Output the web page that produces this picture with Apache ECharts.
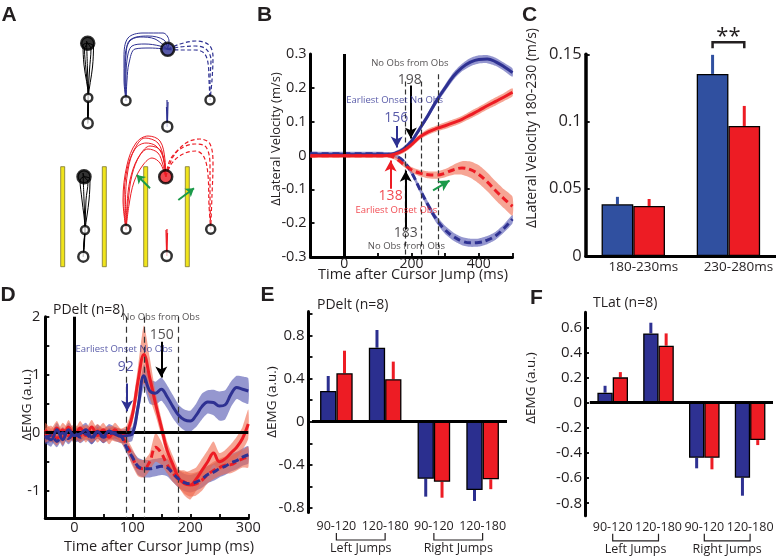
<!DOCTYPE html>
<html><head><meta charset="utf-8">
<script src="https://cdn.jsdelivr.net/npm/echarts@6/dist/echarts.min.js"></script>
<style>html,body{margin:0;padding:0;background:#fff}#c{width:776px;height:557px}</style>
</head><body><div id="c"></div>
<script>
// ================= DATA =================
// ---- Panel A: schematic hand paths (workspace units, cm) ----
const aBlackTop = [
 [[4.77,15.17],[4.8,16.5],[4.83,17.73],[4.6,20.5],[4.45,22.6],[4.77,23.17]],
 [[4.77,15.17],[4.85,16.5],[4.83,17.73],[4.95,20.5],[5.1,22.6],[4.77,23.17]],
 [[4.77,15.17],[4.8,16.5],[4.83,17.73],[5.25,20.8],[5.35,22.9],[4.77,23.17]],
 [[4.77,15.17],[4.75,16.5],[4.83,17.73],[4.75,20.5],[4.65,23.4],[4.77,23.17]],
 [[4.77,15.17],[4.8,16.5],[4.83,17.73],[4.4,21],[4.3,23],[4.77,23.17]]
];
const aBlueSolid = [
 [[8.6,17.43],[8.5,19.5],[8.5,21.5],[8.9,23.3],[10,23.8],[11.5,23.6],[12.77,22.57]],
 [[8.6,17.43],[8.6,19.5],[8.7,21.5],[9.2,22.9],[10.5,23.1],[12,22.9],[12.77,22.57]],
 [[8.6,17.43],[8.4,19.5],[8.4,21.8],[8.8,23.7],[10.3,24.2],[12.3,24.2],[12.9,23.4],[12.77,22.57]],
 [[8.6,17.43],[8.7,19.5],[8.9,21.2],[9.5,22.6],[11,22.7],[12.77,22.57]],
 [[8.6,17.43],[8.5,19.5],[8.6,22],[9.0,23.5],[10.8,23.9],[12.4,23.5],[12.77,22.57]]
];
const aBlueDashed = [
 [[12.77,22.57],[14,22.8],[15.5,22.9],[16.6,22.6],[17.1,21.5],[17.0,19.5],[17.0,17.5]],
 [[12.77,22.57],[14,22.5],[15.5,22.5],[16.4,22.2],[16.8,21.2],[16.9,19.5],[17.0,17.5]],
 [[12.77,22.57],[14,23.1],[15.6,23.4],[16.9,23.0],[17.3,21.8],[17.2,19.5],[17.0,17.5]]
];
const aBlueStub = [
 [[12.73,14.83],[12.7,17.5]], [[12.73,14.83],[12.8,17.3]], [[12.73,14.83],[12.65,16.8]]
];
const aBlackBottom = [
 [[4.33,1.83],[4.4,3.2],[4.5,4.5],[4.2,7.5],[4.0,9.5],[4.4,9.83]],
 [[4.33,1.83],[4.45,3.2],[4.5,4.5],[4.6,7.5],[4.8,9.3],[4.4,9.83]],
 [[4.33,1.83],[4.4,3.2],[4.5,4.5],[4.4,7.5],[4.3,10.2],[4.4,9.83]],
 [[4.33,1.83],[4.4,3.2],[4.5,4.5],[4.9,7.5],[5.0,9.6],[4.4,9.83]]
];
const aRedSolid = [
 [[8.6,4.57],[8.4,7],[8.6,10],[9.3,12.3],[10.5,13.7],[11.8,13.2],[12.4,11.5],[12.57,9.83]],
 [[8.6,4.57],[8.7,7],[9.0,9.5],[9.8,11.7],[10.8,12.6],[11.8,12.2],[12.3,11],[12.57,9.83]],
 [[8.6,4.57],[8.9,7],[9.4,9.3],[10.3,11],[11.2,11.7],[12,11.2],[12.57,9.83]],
 [[8.6,4.57],[8.3,7.5],[8.7,11],[9.6,13.2],[10.8,13.9],[12,13.4],[12.5,11.5],[12.57,9.83]],
 [[8.6,4.57],[8.55,7.2],[8.8,10.5],[9.5,12.6],[10.6,13.2],[11.6,12.9],[12.3,11.8],[12.57,9.83]],
 [[8.6,4.57],[8.8,7.2],[9.2,10],[10,12],[11,12.9],[12.1,12.4],[12.57,9.83]]
];
const aRedDashed = [
 [[12.57,9.83],[13.0,11.5],[14.0,12.6],[15.5,13.1],[16.6,12.8],[17.0,11],[17.0,8],[17.07,4.57]],
 [[12.57,9.83],[13.2,11.2],[14.3,12.1],[15.6,12.4],[16.4,11.8],[16.8,10],[16.9,7],[17.07,4.57]],
 [[12.57,9.83],[13.3,11.8],[14.6,13.2],[16.0,13.6],[17.0,13.1],[17.3,11],[17.2,8],[17.07,4.57]]
];
const aRedStub = [
 [[12.67,1.9],[12.6,4.5]], [[12.67,1.9],[12.75,4.2]], [[12.67,1.9],[12.7,4.6]]
];
const aRings = [
 [4.77,23.17,13],[4.83,17.73,8],[4.77,15.17,10],[8.6,17.43,9],[12.77,22.57,13],[17.0,17.5,9],[12.73,14.83,10],
 [4.4,9.83,13],[4.5,4.5,8],[4.33,1.83,10],[8.6,4.57,9],[12.57,9.83,13],[17.07,4.57,9],[12.67,1.9,10]
];
const aObstacles = [[2.27,0.83,10.83],[6.43,0.83,10.83],[10.57,0.83,10.83],[14.73,0.83,10.83]];
const aArrows = [[[11,8.67],[9.67,10]], [[13.83,7.5],[15.4,8.67]]];

// ---- Panel B: lateral velocity (m/s) vs time (ms) ----
const bTime = [-100,-75,-50,-25,0,25,50,75,100,125,150,175,200,225,250,275,300,325,350,375,400,425,450,475,500];
const bNoObsLeft  = [0.002,0.002,0.002,0.002,0.002,0.002,0.002,0.002,0.002,0.002,0.006,0.018,0.042,0.08,0.12,0.163,0.2,0.235,0.26,0.276,0.284,0.285,0.277,0.262,0.245];
const bObsLeft    = [-0.001,-0.001,-0.001,-0.001,-0.001,-0.001,-0.001,-0.001,-0.001,0.0,0.004,0.014,0.032,0.055,0.07,0.08,0.088,0.097,0.107,0.12,0.133,0.147,0.16,0.173,0.187];
const bNoObsRight = [0.005,0.005,0.005,0.005,0.005,0.005,0.005,0.005,0.005,0.004,0.0,-0.016,-0.05,-0.1,-0.148,-0.19,-0.22,-0.24,-0.253,-0.258,-0.257,-0.25,-0.237,-0.215,-0.188];
const bObsRight   = [-0.001,-0.001,-0.001,-0.001,-0.001,-0.001,-0.001,-0.001,-0.001,-0.001,-0.006,-0.025,-0.042,-0.052,-0.057,-0.058,-0.052,-0.042,-0.037,-0.042,-0.056,-0.078,-0.104,-0.128,-0.15];
const bNoObsLeftSE  = [0.006,0.006,0.006,0.006,0.006,0.006,0.006,0.006,0.006,0.006,0.006,0.007,0.008,0.008,0.009,0.01,0.01,0.011,0.011,0.012,0.012,0.012,0.012,0.012,0.012];
const bObsLeftSE    = [0.005,0.005,0.005,0.005,0.005,0.005,0.005,0.005,0.005,0.005,0.006,0.007,0.008,0.008,0.009,0.009,0.01,0.01,0.01,0.011,0.011,0.011,0.012,0.012,0.012];
const bNoObsRightSE = [0.006,0.006,0.006,0.006,0.006,0.006,0.006,0.006,0.006,0.006,0.006,0.007,0.008,0.009,0.01,0.011,0.012,0.012,0.012,0.012,0.012,0.012,0.012,0.012,0.012];
const bObsRightSE   = [0.005,0.005,0.005,0.005,0.005,0.005,0.005,0.005,0.005,0.005,0.006,0.007,0.008,0.009,0.01,0.011,0.012,0.015,0.02,0.024,0.027,0.028,0.028,0.028,0.028];
const bYTicks = [-0.3,-0.2,-0.1,0,0.1,0.2,0.3];
const bXLabels = [0,200,400];
const bXTicks = [100,200,300,400,500];
const bWindows = [180,230,280];

// ---- Panel C: lateral velocity per window ----
const cCats = ['180-230ms','230-280ms'];
const cNoObs = [0.0385,0.1354];
const cNoObsSE = [0.0055,0.0142];
const cObs = [0.0372,0.0967];
const cObsSE = [0.0052,0.0149];
const cYTicks = [0,0.05,0.1,0.15];

// ---- Panel D: PDelt EMG vs time ----
const dTime = [-50,-40,-30,-20,-10,0,10,20,30,40,50,60,70,80,90,100,110,120,130,140,150,160,170,180,190,200,210,220,230,240,250,260,270,280,290,300];
const dNoObsLeft  = [-0.05,-0.12,0.05,-0.12,0.05,-0.05,-0.02,0.05,-0.08,0.02,-0.06,0.03,-0.02,-0.06,-0.05,-0.02,0.45,0.98,0.72,0.68,0.75,0.62,0.45,0.3,0.22,0.2,0.3,0.45,0.53,0.52,0.46,0.48,0.66,0.78,0.75,0.72];
const dObsLeft    = [0.05,-0.05,0.08,-0.1,0.1,-0.08,0.08,-0.05,0.1,-0.05,0.05,-0.08,0.05,-0.05,0.0,0.3,0.9,1.35,0.95,0.5,0.1,-0.3,-0.55,-0.78,-0.88,-0.9,-0.8,-0.65,-0.5,-0.35,-0.5,-0.45,-0.35,-0.25,-0.1,0.15];
const dNoObsRight = [-0.1,-0.05,-0.15,0.0,-0.1,0.0,-0.08,-0.02,-0.1,0.0,-0.08,-0.02,0.0,-0.05,-0.25,-0.42,-0.58,-0.62,-0.62,-0.6,-0.58,-0.6,-0.7,-0.8,-0.86,-0.88,-0.85,-0.8,-0.72,-0.68,-0.62,-0.58,-0.52,-0.48,-0.42,-0.38];
const dObsRight   = [-0.05,0.0,-0.1,0.05,-0.05,0.03,-0.05,0.02,-0.05,0.03,-0.05,0.0,-0.03,-0.05,-0.2,-0.42,-0.6,-0.62,-0.5,-0.25,-0.35,-0.55,-0.7,-0.8,-0.85,-0.9,-0.88,-0.82,-0.72,-0.65,-0.6,-0.56,-0.55,-0.5,-0.45,-0.42];
const dNoObsLeftSE  = [0.12,0.12,0.12,0.12,0.12,0.12,0.12,0.12,0.12,0.12,0.12,0.12,0.12,0.12,0.12,0.12,0.15,0.2,0.22,0.2,0.2,0.2,0.2,0.18,0.18,0.18,0.2,0.22,0.2,0.22,0.25,0.25,0.22,0.2,0.22,0.22];
const dObsLeftSE    = [0.12,0.12,0.12,0.12,0.12,0.12,0.12,0.12,0.12,0.12,0.12,0.12,0.12,0.12,0.12,0.15,0.25,0.5,0.35,0.2,0.15,0.15,0.15,0.15,0.2,0.25,0.2,0.2,0.2,0.2,0.15,0.15,0.15,0.18,0.2,0.25];
const dNoObsRightSE = [0.1,0.1,0.1,0.1,0.1,0.1,0.1,0.1,0.1,0.1,0.1,0.1,0.1,0.1,0.1,0.12,0.15,0.15,0.15,0.15,0.15,0.15,0.15,0.15,0.15,0.15,0.15,0.15,0.15,0.15,0.15,0.15,0.15,0.15,0.15,0.15];
const dObsRightSE   = [0.12,0.12,0.12,0.12,0.12,0.12,0.12,0.12,0.12,0.12,0.12,0.12,0.12,0.12,0.12,0.15,0.15,0.15,0.15,0.25,0.2,0.15,0.15,0.15,0.2,0.2,0.2,0.18,0.15,0.15,0.15,0.15,0.15,0.15,0.15,0.18];
const dYTicks = [-1,-0.5,0.5,1,1.5,2];
const dYLabels = [-1,0,1,2];
const dXTicks = [50,100,150,200,250,300];
const dXLabels = [0,100,200,300];
const dWindows = [90,120,180];

// ---- Panel E: PDelt mean EMG per window ----
const eCats = ['90-120','120-180','90-120','120-180'];
const eNoObs = [0.284,0.685,-0.528,-0.632];
const eNoObsSE = [0.139,0.164,0.166,0.102];
const eObs = [0.448,0.393,-0.556,-0.534];
const eObsSE = [0.209,0.163,0.148,0.091];
const eYTicks = [-0.8,-0.6,-0.4,-0.2,0,0.2,0.4,0.6,0.8,1.0];
const eYLabels = [-0.8,-0.4,0,0.4,0.8];

// ---- Panel F: TLat mean EMG per window ----
const fCats = ['90-120','120-180','90-120','120-180'];
const fNoObs = [0.08,0.552,-0.438,-0.597];
const fNoObsSE = [0.055,0.085,0.084,0.143];
const fObs = [0.202,0.454,-0.438,-0.297];
const fObsSE = [0.042,0.098,0.092,0.04];
const fYTicks = [-0.8,-0.6,-0.4,-0.2,0,0.2,0.4,0.6];

const jumpGroups = ['Left Jumps','Right Jumps'];

// ================= STYLE =================
const FONT = "'Open Sans', sans-serif";
const BOLD = "'Liberation Sans', Arial, sans-serif";
const TXT = '#231f20';
const BLUE = '#2e3192';
const RED = '#ed1c24';
const GREEN = '#1b9a4a';
const BLUE_BAND = 'rgba(62,66,168,0.55)';
const RED_BAND = 'rgba(240,100,70,0.58)';
const C_BLUE = '#3050a0';
const E_BLUE = '#2b2f8f';

const fmt = v => Math.abs(v) < 1e-9 ? '0' : String(+v.toFixed(2));

// ================= BUILD =================
const series = [];

// Panel A
function addBundle(bundle, color, dashed, width) {
  bundle.forEach(path => series.push({
    type:'line', xAxisIndex:0, yAxisIndex:0, data:path, symbol:'none', smooth:0.35, silent:true,
    lineStyle:{color, width, type: dashed ? [4,2.5] : 'solid'}, z:3
  }));
}
addBundle(aBlackTop,'#000',false,1);
addBundle(aBlueSolid,BLUE,false,1);
addBundle(aBlueDashed,BLUE,true,1.2);
addBundle(aBlueStub,BLUE,false,1.2);
addBundle(aBlackBottom,'#000',false,1);
addBundle(aRedSolid,RED,false,1);
addBundle(aRedDashed,RED,true,1.2);
addBundle(aRedStub,RED,false,1.2);
series.push({
  type:'custom', xAxisIndex:0, yAxisIndex:0, data:aObstacles, encode:{x:0,y:[1,2]}, silent:true, z:2,
  renderItem:(p,api)=>{
    const top = api.coord([api.value(0), api.value(2)]);
    const bot = api.coord([api.value(0), api.value(1)]);
    return {type:'rect', shape:{x:top[0]-2, y:top[1], width:4, height:bot[1]-top[1]},
      style:{fill:'#f0e41c', stroke:'#7a7430', lineWidth:0.8}};
  }
});
const ringFill = ['#000','#fff','#fff','#fff',BLUE,'#fff','#fff','#000','#fff','#fff','#fff',RED,'#fff','#fff'];
series.push({
  type:'scatter', xAxisIndex:0, yAxisIndex:0, clip:false, silent:true, z:10,
  data: aRings.map((r,i)=>({value:r, itemStyle:{color:ringFill[i]}})),
  symbolSize: v => v[2],
  itemStyle:{borderColor:'#000', borderWidth:2.5},
  markLine:{silent:true, animation:false, symbol:['none','arrow'], symbolSize:8, label:{show:false},
    lineStyle:{color:GREEN, width:2, type:'solid'}, itemStyle:{color:GREEN},
    data: aArrows.map(a=>[{coord:a[0]},{coord:a[1]}])}
});

// Bands (polygon between mean-se and mean+se) and mean lines
function band(xi, xs, mean, se, color, z) {
  series.push({type:'custom', xAxisIndex:xi, yAxisIndex:xi, silent:true, z, encode:{x:0,y:1},
    data:[[xs[0], mean[0]]],
    renderItem:(p, api) => {
      const up = xs.map((x,i)=>api.coord([x, mean[i]+se[i]]));
      const lo = xs.map((x,i)=>api.coord([x, mean[i]-se[i]])).reverse();
      return {type:'polygon', shape:{points: up.concat(lo), smooth:0.2}, style:{fill:color}};
    }});
}
function meanLine(xi, xs, mean, color, dashed, z) {
  series.push({type:'line', xAxisIndex:xi, yAxisIndex:xi, data: xs.map((x,i)=>[x, mean[i]]),
    symbol:'none', smooth:0.4, silent:true, z,
    lineStyle:{color, width:3, type: dashed ? [7,4] : 'solid'}});
}
// Panel B
band(1,bTime,bNoObsRight,bNoObsRightSE,BLUE_BAND,2);
band(1,bTime,bNoObsLeft,bNoObsLeftSE,BLUE_BAND,2);
band(1,bTime,bObsRight,bObsRightSE,RED_BAND,2);
band(1,bTime,bObsLeft,bObsLeftSE,RED_BAND,2);
meanLine(1,bTime,bNoObsLeft,BLUE,false,4);
meanLine(1,bTime,bNoObsRight,BLUE,true,4);
meanLine(1,bTime,bObsLeft,RED,false,5);
meanLine(1,bTime,bObsRight,RED,true,5);
// Panel D
band(3,dTime,dNoObsRight,dNoObsRightSE,BLUE_BAND,2);
band(3,dTime,dNoObsLeft,dNoObsLeftSE,BLUE_BAND,2);
band(3,dTime,dObsRight,dObsRightSE,RED_BAND,2);
band(3,dTime,dObsLeft,dObsLeftSE,RED_BAND,2);
meanLine(3,dTime,dObsLeft,RED,false,4);
meanLine(3,dTime,dObsRight,RED,true,4);
meanLine(3,dTime,dNoObsLeft,BLUE,false,5);
meanLine(3,dTime,dNoObsRight,BLUE,true,5);

// annotation helpers
function notes(xi, list, marks) {
  series.push({type:'scatter', xAxisIndex:xi, yAxisIndex:xi, clip:false, silent:true, z:12,
    symbolSize:1, itemStyle:{color:'rgba(0,0,0,0)'},
    data: list.map(n=>({value:[n[0],n[1]], name:n[2],
      label:{show:true, position:'inside', formatter:'{b}', color:n[4], fontSize:n[3], fontFamily:FONT}})),
    markLine:{silent:true, animation:false, label:{show:false}, symbol:['none','none'], data:marks}
  });
}
function vline(x, y0, y1, color, width, type) {
  return [{coord:[x,y0], lineStyle:{color, width, type}}, {coord:[x,y1]}];
}
function arrow(x0,y0,x1,y1,color,width) {
  return [{coord:[x0,y0], symbol:'none', lineStyle:{color, width, type:'solid'}, itemStyle:{color}},
          {coord:[x1,y1], symbol:'arrow', symbolSize:[9,11], itemStyle:{color}}];
}
const bMarks = [
  vline(0,0.3,-0.3,'#000',3,'solid'),
  vline(bWindows[0],0.219,-0.3,'#333',1.2,[5,3]),
  vline(bWindows[1],0.219,-0.3,'#333',1.2,[5,3]),
  vline(bWindows[2],0.24,-0.3,'#333',1.2,[5,3]),
  arrow(198,0.207,198,0.05,'#000',2),
  arrow(156,0.087,156,0.024,BLUE,2),
  arrow(138,-0.098,138,-0.015,RED,2),
  arrow(183,-0.218,183,-0.045,'#000',2),
  arrow(264,-0.103,313,-0.074,GREEN,2)
];
notes(1, [
  [195,0.273,'No Obs from Obs',9.5,TXT],
  [195,0.222,'198',14,TXT],
  [150,0.164,'Earliest Onset No Obs',9.5,BLUE],
  [155,0.112,'156',14,BLUE],
  [138,-0.121,'138',14,RED],
  [155,-0.163,'Earliest Onset Obs',9.5,RED],
  [183,-0.228,'183',14,TXT],
  [185,-0.268,'No Obs from Obs',9.5,TXT]
], bMarks);
const dMarks = [
  vline(0,2,-1.47,'#000',3,'solid'),
  [{coord:[-50,0], lineStyle:{color:'#000', width:3, type:'solid'}},{coord:[300,0]}],
  vline(dWindows[0],2,-1.47,'#333',1.2,[6,4]),
  vline(dWindows[1],2,-1.47,'#333',1.2,[6,4]),
  vline(dWindows[2],2,-1.47,'#333',1.2,[6,4]),
  arrow(150,1.57,150,0.95,'#000',2),
  arrow(91,0.85,91,0.37,BLUE,2)
];
notes(3, [
  [149.5,1.99,'No Obs from Obs',9.5,TXT],
  [150.7,1.68,'150',14,TXT],
  [85.7,1.43,'Earliest Onset No Obs',9.5,BLUE],
  [88.8,1.13,'92',14,BLUE]
], dMarks);

// Bars
function errRender(offset, color) {
  return (p, api) => {
    const c = api.value(0), v = api.value(1), se = api.value(2);
    const a = api.coord([c, v]), b = api.coord([c, v + (v >= 0 ? se : -se)]);
    return {type:'line', shape:{x1:a[0]+offset, y1:a[1], x2:a[0]+offset, y2:b[1]},
      style:{stroke:color, lineWidth:3}};
  };
}
function bars(xi, vals1, se1, c1, vals2, se2, c2, bw, zeroLine) {
  const s1 = {type:'bar', xAxisIndex:xi, yAxisIndex:xi, data:vals1, barWidth:bw, barGap:'0%', silent:true, z:3,
    itemStyle:{color:c1, borderColor:'#000', borderWidth:1.3}};
  if (zeroLine) s1.markLine = {silent:true, animation:false, symbol:['none','none'], label:{show:false},
    lineStyle:{color:'#000', width:3, type:'solid'}, data:[{yAxis:0}]};
  series.push(s1);
  series.push({type:'bar', xAxisIndex:xi, yAxisIndex:xi, data:vals2, barWidth:bw, barGap:'0%', silent:true, z:3,
    itemStyle:{color:c2, borderColor:'#000', borderWidth:1.3}});
  series.push({type:'custom', xAxisIndex:xi, yAxisIndex:xi, silent:true, z:2, encode:{x:0,y:1},
    data: vals1.map((v,i)=>[i,v,se1[i]]), renderItem: errRender(-bw/2, c1)});
  series.push({type:'custom', xAxisIndex:xi, yAxisIndex:xi, silent:true, z:2, encode:{x:0,y:1},
    data: vals2.map((v,i)=>[i,v,se2[i]]), renderItem: errRender(bw/2, c2)});
}
bars(2, cNoObs, cNoObsSE, C_BLUE, cObs, cObsSE, RED, 31.7, false);
bars(4, eNoObs, eNoObsSE, E_BLUE, eObs, eObsSE, RED, 16.3, true);
bars(5, fNoObs, fNoObsSE, BLUE, fObs, fObsSE, RED, 15.3, true);

// significance bracket C
series.push({type:'custom', xAxisIndex:2, yAxisIndex:2, silent:true, z:6, encode:{x:0,y:1},
  data:[[1,0.159]],
  renderItem:(p,api)=>{
    const c = api.coord([api.value(0), api.value(1)]); const h = 31.7/2;
    return {type:'group', children:[
      {type:'polyline', shape:{points:[[c[0]-h,c[1]+6],[c[0]-h,c[1]],[c[0]+h,c[1]],[c[0]+h,c[1]+6]]},
        style:{stroke:TXT, fill:null, lineWidth:2.5}},
      {type:'text', x:c[0], y:c[1]-5, style:{text:'**', fontSize:22, fontFamily:FONT, fill:TXT, align:'center', verticalAlign:'middle'}}
    ]};
  }});
// jump-group brackets E,F
function groupBrackets(xi, off, textOff) {
  series.push({type:'custom', xAxisIndex:xi, yAxisIndex:xi, silent:true, z:6, encode:{x:[0,1],y:2},
    data:[[0,1,0],[2,3,0]],
    renderItem:(p,api)=>{
      const a = api.coord([api.value(0),0]), b = api.coord([api.value(1),0]);
      const yb = p.coordSys.y + p.coordSys.height + off;
      return {type:'group', children:[
        {type:'polyline', shape:{points:[[a[0],yb-7],[a[0],yb],[b[0],yb],[b[0],yb-7]]}, style:{stroke:TXT, fill:null, lineWidth:1.2}},
        {type:'text', x:(a[0]+b[0])/2, y:p.coordSys.y + p.coordSys.height + textOff,
          style:{text:jumpGroups[p.dataIndex], fontSize:12.5, fontFamily:FONT, fill:TXT, align:'center', verticalAlign:'middle'}}
      ]};
    }});
}
groupBrackets(4, 27.6, 35.8);
groupBrackets(5, 25, 33.5);

// ================= AXES =================
const lineAx = (w) => ({show:true, onZero:false, lineStyle:{color:'#000', width:w}});
const tickIn = (vals) => ({show:true, inside:true, length:4, lineStyle:{color:'#000', width:1.8}, customValues:vals});
const lab = (vals, size, margin, extra) => Object.assign({show:true, color:TXT, fontFamily:FONT, fontSize:size, margin, formatter:fmt, customValues:vals}, extra||{});

const xAxis = [
  {gridIndex:0, type:'value', min:0, max:19, show:false},
  {gridIndex:1, type:'value', min:-100, max:500, splitLine:{show:false}, axisLine:lineAx(3),
    axisTick:tickIn(bXTicks), axisLabel:lab(bXLabels,14,0)},
  {gridIndex:2, type:'category', data:cCats, splitLine:{show:false}, axisLine:lineAx(3), axisTick:{show:false},
    axisLabel:{show:true, color:TXT, fontFamily:FONT, fontSize:13.5, margin:4, interval:0, padding:[0,0,0,20]}},
  {gridIndex:3, type:'value', min:-50, max:300, splitLine:{show:false}, axisLine:lineAx(3),
    axisTick:tickIn(dXTicks), axisLabel:lab(dXLabels,14.5,2)},
  {gridIndex:4, type:'category', data:eCats, splitLine:{show:false}, axisLine:{show:false, onZero:false}, axisTick:{show:false},
    axisLabel:{show:true, color:TXT, fontFamily:FONT, fontSize:12.5, margin:8, interval:0}},
  {gridIndex:5, type:'category', data:fCats, splitLine:{show:false}, axisLine:{show:false, onZero:false}, axisTick:{show:false},
    axisLabel:{show:true, color:TXT, fontFamily:FONT, fontSize:12.5, margin:5, interval:0}}
];
const yAxis = [
  {gridIndex:0, type:'value', min:0, max:25.5, show:false},
  {gridIndex:1, type:'value', min:-0.3, max:0.3, splitLine:{show:false}, axisLine:lineAx(3),
    axisTick:tickIn([-0.2,-0.1,0.1,0.2]), axisLabel:lab(bYTicks,14.5,4)},
  {gridIndex:2, type:'value', min:0, max:0.15, splitLine:{show:false}, axisLine:lineAx(3.5),
    axisTick:tickIn([0.05,0.1,0.15]), axisLabel:lab(cYTicks,16.5,4)},
  {gridIndex:3, type:'value', min:-1.47, max:2, splitLine:{show:false}, axisLine:lineAx(3),
    axisTick:tickIn(dYTicks), axisLabel:lab(dYLabels,14.5,5)},
  {gridIndex:4, type:'value', min:-0.84, max:1.02, offset:3.5, splitLine:{show:false}, axisLine:lineAx(3),
    axisTick:tickIn(eYTicks), axisLabel:lab(eYLabels,15,4)},
  {gridIndex:5, type:'value', min:-0.9, max:0.72, offset:4.8, splitLine:{show:false}, axisLine:lineAx(3),
    axisTick:tickIn(fYTicks), axisLabel:lab(fYTicks,15,3)}
];

// ================= TEXT =================
function gtext(x, y, text, size, o) {
  o = o || {};
  return {type:'text', x, y, rotation:o.rot||0, silent:true, z:100,
    style:{text, fontSize:size, fontFamily:o.font||FONT, fontWeight:o.weight||'normal', fill:o.color||TXT,
      align:o.align||'center', verticalAlign:'middle'}};
}
const R = Math.PI/2;
const graphic = [
  gtext(9,15,'A',21,{font:BOLD,weight:'bold'}),
  gtext(264.5,15,'B',21,{font:BOLD,weight:'bold'}),
  gtext(529.5,15,'C',21,{font:BOLD,weight:'bold'}),
  gtext(8,295,'D',21,{font:BOLD,weight:'bold'}),
  gtext(267.5,295,'E',21,{font:BOLD,weight:'bold'}),
  gtext(536.5,298,'F',21,{font:BOLD,weight:'bold'}),
  gtext(276.5,139,'ΔLateral Velocity (m/s)',13,{rot:R}),
  gtext(413,274.5,'Time after Cursor Jump (ms)',14.5),
  gtext(532,128,'ΔLateral Velocity 180-230 (m/s)',14,{rot:R}),
  gtext(27,405,'ΔEMG (a.u.)',13.5,{rot:R}),
  gtext(159,547,'Time after Cursor Jump (ms)',14.5),
  gtext(53,310,'PDelt (n=8)',14,{align:'left'}),
  gtext(272,402,'ΔEMG (a.u.)',13.5,{rot:R}),
  gtext(317,305,'PDelt (n=8)',14,{align:'left'}),
  gtext(531,388,'ΔEMG (a.u.)',13.5,{rot:R}),
  gtext(593,303,'TLat (n=8)',14,{align:'left'})
];

const option = {
  backgroundColor:'#fff',
  animation:false,
  textStyle:{fontFamily:FONT},
  grid:[
    {left:40, top:20, width:190, height:255, outerBoundsMode:'none'},
    {left:310.5, top:54, width:202, height:203, outerBoundsMode:'none'},
    {left:585.7, top:54.3, width:190.3, height:201.7, outerBoundsMode:'none'},
    {left:45.3, top:316.7, width:203, height:201.3, outerBoundsMode:'none'},
    {left:312, top:311.5, width:195, height:200.9, outerBoundsMode:'none'},
    {left:589.8, top:312.3, width:183.2, height:203.5, outerBoundsMode:'none'}
  ],
  xAxis, yAxis, series, graphic
};
const chart = echarts.init(document.getElementById('c'), null, {width:776, height:557});
chart.setOption(option);
</script></body></html>
